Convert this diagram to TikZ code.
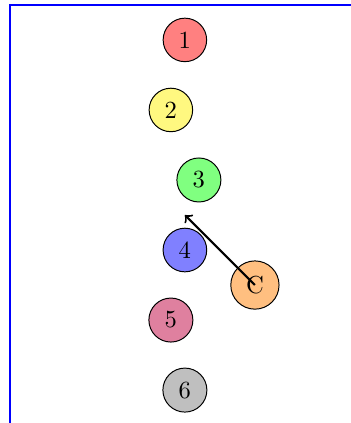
\documentclass[tikz,border=0pt]{standalone}
\usetikzlibrary{positioning}
\tikzset{ball/.style={circle,draw}}
\begin{document}
\begin{tikzpicture}
      \useasboundingbox (-2.64,0.57) rectangle (2.37,-5.47);
      \draw[thick,blue] (-2.5,0.5) rectangle (2.5,-5.5);
      \node[ball,fill=red!50] (n1) at (0,0) {1};
      \node[ball,fill=yellow!50] (n2) at (-0.2,-1) {2};
      \node[ball,fill=green!50] (n3) at (0.2,-2) {3};
      \node[ball,fill=blue!50] (n4) at (0,-3) {4};
      \node[ball,fill=purple!50] (n5) at (-0.2,-4) {5};
      \node[ball,fill=gray!50] (n6) at (0,-5) {6};
      \node[ball,fill=orange!50] (c) at (1,-3.5) {C};
      \coordinate (tip) at (0,-2.5);
      \draw[->,thick] (c.center) -- (tip);
    \end{tikzpicture}
\end{document}
